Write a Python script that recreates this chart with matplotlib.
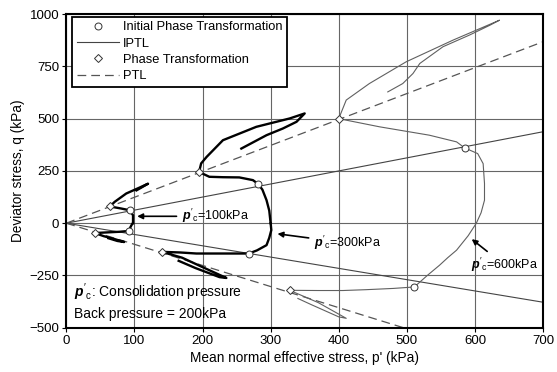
import numpy as np
import matplotlib
matplotlib.use("Agg")
import matplotlib.pyplot as plt

plt.rcParams['font.family'] = ['Liberation Sans', 'DejaVu Sans']
plt.rcParams['mathtext.fontset'] = 'custom'
plt.rcParams['mathtext.it'] = 'Liberation Sans:italic:bold'
plt.rcParams['mathtext.rm'] = 'Liberation Sans'

# stress paths (p' , q) in kPa
# p'c = 100 kPa
p100c = [98, 98, 98, 93, 81, 64, 71, 88, 108, 120, 110, 103]
q100c = [0, 20, 38, 62, 70, 80, 102, 142, 171, 189, 170, 157]
p100e = [98, 97, 94, 92, 78, 60, 42, 55, 70, 85, 75, 62]
q100e = [0, -2, -20, -37, -41, -44, -47, -62, -75, -90, -85, -72]
# p'c = 300 kPa
p300c = [300, 298, 294, 288, 282, 274, 254, 230, 210, 195, 198, 206, 230, 279, 328, 350, 338, 318, 294, 257]
q300c = [0, 60, 110, 160, 187, 206, 219, 220, 222, 245, 286, 317, 397, 461, 501, 525, 485, 453, 421, 357]
p300e = [300, 301, 298, 294, 280, 268, 240, 191, 167, 140, 170, 200, 235, 225, 190, 165]
q300e = [0, -33, -70, -105, -130, -145, -145, -145, -140, -137, -165, -210, -262, -258, -215, -180]
# p'c = 600 kPa
p600c = [602, 609, 614, 614, 612, 604, 585, 573, 533, 460, 400, 411, 445, 499, 568, 636, 622, 592, 553, 519, 509, 494, 472]
q600c = [0, 50, 110, 190, 285, 333, 360, 389, 421, 461, 500, 589, 668, 772, 876, 971, 947, 900, 844, 764, 716, 668, 628]
p600e = [602, 590, 573, 560, 548, 530, 511, 480, 440, 406, 370, 328, 370, 411, 400, 360, 340]
q600e = [0, -60, -129, -165, -201, -250, -305, -312, -318, -322, -322, -321, -380, -455, -448, -390, -360]

# initial phase transformation points (circles) and phase transformation (diamonds)
ipt_p = [93, 92, 282, 268, 585, 511]
ipt_q = [62, -37, 187, -145, 360, -305]
pt_p = [64, 42, 195, 140, 400, 328]
pt_q = [80, -47, 245, -137, 500, -321]

# line slopes
iptl_up, iptl_lo = 0.625, -0.54
ptl_up, ptl_lo = 1.24, -1.01

fig = plt.figure(figsize=(5.57, 3.72), dpi=100)
ax = fig.add_axes([0.119, 0.119, 0.856, 0.843])

xl = np.array([0, 700])
ax.plot(xl, iptl_up * xl, color='#444444', lw=0.8, zorder=2)
ax.plot(xl, iptl_lo * xl, color='#444444', lw=0.8, zorder=2)
ax.plot(xl, ptl_up * xl, color='#555555', lw=0.9, ls=(0, (7, 4)), zorder=2)
ax.plot(xl, ptl_lo * xl, color='#555555', lw=0.9, ls=(0, (7, 4)), zorder=2)

ax.plot(p600c, q600c, color='#606060', lw=0.8, zorder=3)
ax.plot(p600e, q600e, color='#606060', lw=0.8, zorder=3)
ax.plot(p300c, q300c, color='black', lw=1.7, zorder=3)
ax.plot(p300e, q300e, color='black', lw=1.7, zorder=3)
ax.plot(p100c, q100c, color='black', lw=1.7, zorder=3)
ax.plot(p100e, q100e, color='black', lw=1.7, zorder=3)

ax.plot(ipt_p, ipt_q, 'o', ms=5, mfc='white', mec='#333333', mew=0.7, zorder=4)
ax.plot(pt_p, pt_q, 'D', ms=4.5, mfc='white', mec='#333333', mew=0.7, zorder=4)

# legend handles
h1, = ax.plot([], [], 'o', ms=5, mfc='white', mec='#333333', mew=0.7)
h2, = ax.plot([], [], color='#444444', lw=0.8)
h3, = ax.plot([], [], 'D', ms=4.5, mfc='white', mec='#333333', mew=0.7)
h4, = ax.plot([], [], color='#555555', lw=0.9, ls=(0, (7, 4)))
leg = ax.legend([h1, h2, h3, h4],
                ['Initial Phase Transformation', 'IPTL', 'Phase Transformation', 'PTL'],
                loc='upper left', bbox_to_anchor=(0.012, 0.992), fontsize=9.3,
                fancybox=False, framealpha=1, edgecolor='black',
                handlelength=3.3, handletextpad=0.3, labelspacing=0.33,
                borderpad=0.35, borderaxespad=0)
leg.get_frame().set_linewidth(1.3)

arrow = dict(arrowstyle='-|>', color='black', lw=1.2, mutation_scale=8)
ax.annotate(r"$p'_{\mathrm{c}}$=100kPa", xy=(100, 33), xytext=(170, 33),
            fontsize=9, va='center', arrowprops=arrow)
ax.annotate(r"$p'_{\mathrm{c}}$=300kPa", xy=(306, -49), xytext=(364, -95),
            fontsize=9, va='center', arrowprops=arrow)
ax.annotate(r"$p'_{\mathrm{c}}$=600kPa", xy=(592, -68), xytext=(594, -200),
            fontsize=9, va='center', arrowprops=arrow)

ax.text(12, -329, r"$p'_{\mathrm{c}}$: Consolidation pressure", fontsize=10, va='center')
ax.text(12, -432, "Back pressure = 200kPa", fontsize=10, va='center')

ax.set_xlim(0, 700)
ax.set_ylim(-500, 1000)
ax.set_xticks(range(0, 701, 100))
ax.set_yticks(range(-500, 1001, 250))
ax.grid(True, color='#666666', lw=0.8)
ax.set_axisbelow(True)
ax.tick_params(labelsize=9.5, length=3, width=0.8, pad=2)
for s in ax.spines.values():
    s.set_linewidth(1.5)

ax.set_xlabel("Mean normal effective stress, p' (kPa)", fontsize=9.8, labelpad=3)
ax.set_ylabel("Deviator stress, q (kPa)", fontsize=9.8, labelpad=3)

fig.savefig("out.png", dpi=100)
